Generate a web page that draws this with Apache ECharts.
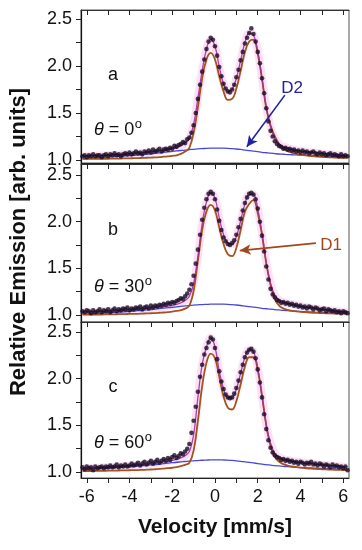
<!DOCTYPE html>
<html><head><meta charset="utf-8">
<script src="https://cdn.jsdelivr.net/npm/echarts@6/dist/echarts.min.js"></script>
<style>html,body{margin:0;padding:0;background:#fff}#c{width:362px;height:550px}</style>
</head><body><div id="c"></div>
<script>
// ---------- DATA ----------
const velocity = [
-6.2,-6.1,-6.0,-5.9,-5.8,-5.7,-5.6,-5.5,-5.4,-5.3,
-5.2,-5.1,-5.0,-4.9,-4.8,-4.7,-4.6,-4.5,-4.4,-4.3,
-4.2,-4.1,-4.0,-3.9,-3.8,-3.7,-3.6,-3.5,-3.4,-3.3,
-3.2,-3.1,-3.0,-2.9,-2.8,-2.7,-2.6,-2.5,-2.4,-2.3,
-2.2,-2.1,-2.0,-1.9,-1.8,-1.7,-1.6,-1.5,-1.4,-1.3,
-1.2,-1.1,-1.0,-0.9,-0.8,-0.7,-0.6,-0.5,-0.4,-0.3,
-0.2,-0.1,0.0,0.1,0.2,0.3,0.4,0.5,0.6,0.7,
0.8,0.9,1.0,1.1,1.2,1.3,1.4,1.5,1.6,1.7,
1.8,1.9,2.0,2.1,2.2,2.3,2.4,2.5,2.6,2.7,
2.8,2.9,3.0,3.1,3.2,3.3,3.4,3.5,3.6,3.7,
3.8,3.9,4.0,4.1,4.2,4.3,4.4,4.5,4.6,4.7,
4.8,4.9,5.0,5.1,5.2,5.3,5.4,5.5,5.6,5.7,
5.8,5.9,6.0,6.1,6.2];

const fitVelocity = [
-6.2,-6.0,-5.8,-5.6,-5.4,-5.2,-5.0,-4.8,-4.6,-4.4,
-4.2,-4.0,-3.8,-3.6,-3.4,-3.2,-3.0,-2.8,-2.6,-2.4,
-2.2,-2.0,-1.8,-1.6,-1.4,-1.2,-1.0,-0.8,-0.6,-0.4,
-0.2,0.0,0.2,0.4,0.6,0.8,1.0,1.2,1.4,1.6,
1.8,2.0,2.2,2.4,2.6,2.8,3.0,3.2,3.4,3.6,
3.8,4.0,4.2,4.4,4.6,4.8,5.0,5.2,5.4,5.6,
5.8,6.0,6.2];

// Panel a (theta = 0)
const dotsA = [
1.04,1.05,1.03,1.05,1.04,1.06,1.04,1.05,1.05,1.03,
1.05,1.06,1.04,1.06,1.05,1.07,1.05,1.06,1.04,1.06,
1.07,1.06,1.08,1.06,1.07,1.09,1.07,1.08,1.06,1.09,
1.08,1.10,1.08,1.11,1.09,1.10,1.12,1.09,1.11,1.12,
1.11,1.13,1.12,1.15,1.14,1.16,1.17,1.19,1.18,1.22,
1.24,1.29,1.37,1.50,1.65,1.80,1.94,2.07,2.18,2.26,
2.30,2.28,2.21,2.11,1.99,1.89,1.81,1.76,1.73,1.72,
1.75,1.80,1.88,1.96,2.06,2.15,2.24,2.30,2.35,2.40,
2.34,2.26,2.15,2.03,1.87,1.71,1.55,1.41,1.31,1.25,
1.20,1.17,1.15,1.14,1.12,1.13,1.11,1.12,1.10,1.11,
1.09,1.10,1.08,1.10,1.08,1.09,1.07,1.08,1.09,1.07,
1.06,1.08,1.06,1.07,1.05,1.06,1.07,1.05,1.06,1.05,
1.04,1.06,1.04,1.05,1.04];
const totalA = [
1.040,1.042,1.044,1.046,1.048,1.050,1.052,1.054,1.057,1.060,
1.063,1.066,1.069,1.072,1.076,1.080,1.085,1.090,1.096,1.103,
1.110,1.120,1.132,1.150,1.18,1.23,1.38,1.66,1.95,2.18,
2.28,2.21,1.99,1.81,1.73,1.75,1.87,2.06,2.25,2.35,
2.33,2.16,1.87,1.56,1.35,1.23,1.17,1.14,1.125,1.115,
1.105,1.098,1.091,1.085,1.080,1.075,1.070,1.066,1.062,1.058,
1.054,1.050,1.047];
const d1A = [
1.010,1.011,1.011,1.012,1.012,1.013,1.013,1.014,1.015,1.016,
1.017,1.018,1.019,1.020,1.022,1.024,1.026,1.028,1.031,1.035,
1.039,1.044,1.050,1.065,1.09,1.13,1.29,1.56,1.87,2.07,
2.14,2.07,1.89,1.73,1.64,1.65,1.76,1.95,2.15,2.26,
2.28,2.13,1.86,1.55,1.37,1.25,1.17,1.12,1.095,1.078,
1.066,1.057,1.050,1.044,1.040,1.036,1.033,1.030,1.028,1.026,
1.024,1.023,1.022];
const d2A = [
1.018,1.020,1.022,1.024,1.026,1.028,1.031,1.034,1.037,1.040,
1.043,1.046,1.050,1.054,1.058,1.062,1.066,1.071,1.076,1.081,
1.086,1.091,1.096,1.101,1.106,1.110,1.114,1.118,1.121,1.124,
1.126,1.127,1.127,1.126,1.124,1.121,1.117,1.112,1.106,1.100,
1.094,1.088,1.082,1.077,1.072,1.068,1.064,1.061,1.058,1.056,
1.054,1.052,1.050,1.048,1.046,1.044,1.042,1.040,1.038,1.036,
1.035,1.034,1.033];

// Panel b (theta = 30)
const dotsB = [
1.04,1.03,1.05,1.04,1.02,1.05,1.03,1.04,1.06,1.03,
1.05,1.04,1.06,1.03,1.05,1.07,1.04,1.06,1.05,1.07,
1.06,1.08,1.05,1.07,1.06,1.08,1.07,1.09,1.06,1.08,
1.09,1.07,1.10,1.08,1.10,1.09,1.11,1.10,1.12,1.11,
1.13,1.12,1.14,1.13,1.15,1.16,1.18,1.17,1.20,1.23,
1.27,1.33,1.42,1.55,1.70,1.86,2.02,2.15,2.24,2.30,
2.32,2.30,2.24,2.13,2.01,1.91,1.83,1.79,1.76,1.75,
1.77,1.80,1.86,1.94,2.03,2.12,2.20,2.26,2.30,2.31,
2.29,2.24,2.14,2.00,1.85,1.68,1.52,1.38,1.28,1.22,
1.19,1.16,1.15,1.13,1.14,1.12,1.13,1.11,1.12,1.10,
1.11,1.09,1.10,1.08,1.09,1.07,1.09,1.08,1.06,1.08,
1.07,1.05,1.06,1.07,1.04,1.06,1.05,1.04,1.05,1.03,
1.04,1.02,1.04,1.03,1.02];
const totalB = [
1.030,1.032,1.034,1.036,1.038,1.040,1.042,1.044,1.046,1.049,
1.052,1.055,1.058,1.061,1.065,1.069,1.073,1.078,1.083,1.089,
1.096,1.104,1.115,1.130,1.155,1.20,1.34,1.63,1.98,2.21,
2.31,2.25,2.04,1.86,1.77,1.76,1.84,2.01,2.19,2.29,
2.29,2.14,1.87,1.56,1.34,1.21,1.16,1.14,1.125,1.115,
1.105,1.096,1.088,1.080,1.073,1.066,1.060,1.054,1.049,1.044,
1.040,1.036,1.033];
const d1B = [
1.003,1.004,1.004,1.005,1.005,1.006,1.006,1.007,1.008,1.009,
1.010,1.011,1.012,1.013,1.015,1.017,1.019,1.021,1.024,1.027,
1.031,1.036,1.043,1.053,1.068,1.10,1.26,1.58,1.91,2.11,
2.18,2.12,1.94,1.76,1.65,1.63,1.72,1.91,2.11,2.19,
2.23,2.09,1.86,1.55,1.32,1.17,1.10,1.07,1.055,1.045,
1.039,1.034,1.030,1.027,1.024,1.022,1.020,1.018,1.017,1.016,
1.015,1.014,1.013];
const d2B = [
1.010,1.012,1.014,1.016,1.018,1.020,1.023,1.026,1.029,1.032,
1.035,1.038,1.042,1.046,1.050,1.054,1.058,1.063,1.068,1.073,
1.078,1.083,1.088,1.093,1.098,1.102,1.106,1.109,1.112,1.114,
1.116,1.117,1.117,1.116,1.114,1.111,1.107,1.102,1.096,1.090,
1.084,1.078,1.072,1.067,1.062,1.058,1.054,1.050,1.047,1.044,
1.041,1.038,1.035,1.032,1.030,1.028,1.026,1.024,1.022,1.020,
1.018,1.016,1.015];

// Panel c (theta = 60)
const dotsC = [
1.05,1.03,1.06,1.04,1.05,1.02,1.06,1.04,1.05,1.06,
1.04,1.06,1.05,1.07,1.05,1.06,1.08,1.05,1.07,1.06,
1.08,1.06,1.07,1.09,1.07,1.08,1.10,1.07,1.09,1.11,
1.08,1.10,1.12,1.09,1.11,1.13,1.10,1.12,1.14,1.12,
1.15,1.13,1.16,1.18,1.15,1.17,1.20,1.19,1.22,1.25,
1.30,1.42,1.55,1.70,1.86,2.02,2.15,2.26,2.33,2.39,
2.44,2.42,2.33,2.21,2.08,1.97,1.89,1.83,1.80,1.79,
1.80,1.84,1.90,1.98,2.07,2.15,2.23,2.28,2.31,2.32,
2.29,2.22,2.10,1.96,1.80,1.62,1.46,1.34,1.26,1.21,
1.18,1.16,1.15,1.13,1.14,1.12,1.13,1.11,1.12,1.10,
1.11,1.09,1.11,1.10,1.08,1.10,1.09,1.11,1.08,1.09,
1.07,1.09,1.08,1.06,1.08,1.07,1.05,1.08,1.06,1.07,
1.05,1.06,1.04,1.06,1.02];
const totalC = [
1.040,1.042,1.044,1.046,1.048,1.050,1.052,1.055,1.058,1.061,
1.064,1.067,1.071,1.075,1.079,1.084,1.089,1.095,1.101,1.108,
1.115,1.124,1.136,1.152,1.175,1.22,1.40,1.80,2.15,2.34,
2.44,2.34,2.08,1.89,1.80,1.80,1.89,2.06,2.23,2.31,
2.29,2.12,1.81,1.50,1.31,1.20,1.16,1.14,1.13,1.12,
1.110,1.103,1.097,1.092,1.087,1.082,1.078,1.074,1.070,1.066,
1.062,1.058,1.055];
const d1C = [
1.010,1.011,1.011,1.012,1.012,1.013,1.014,1.015,1.016,1.017,
1.018,1.019,1.020,1.021,1.023,1.025,1.027,1.030,1.033,1.037,
1.041,1.046,1.053,1.063,1.077,1.10,1.23,1.55,1.92,2.17,
2.27,2.22,2.02,1.81,1.69,1.67,1.76,1.94,2.13,2.23,
2.23,2.09,1.82,1.50,1.28,1.16,1.11,1.085,1.070,1.060,
1.053,1.047,1.042,1.038,1.035,1.032,1.030,1.028,1.026,1.024,
1.023,1.022,1.021];
const d2C = [
1.028,1.030,1.032,1.034,1.036,1.038,1.041,1.044,1.047,1.050,
1.053,1.056,1.060,1.064,1.068,1.072,1.076,1.080,1.085,1.090,
1.095,1.100,1.105,1.109,1.113,1.117,1.120,1.123,1.126,1.128,
1.130,1.130,1.130,1.129,1.127,1.124,1.120,1.115,1.109,1.103,
1.097,1.091,1.085,1.079,1.074,1.069,1.065,1.061,1.057,1.054,
1.051,1.048,1.046,1.044,1.042,1.040,1.038,1.036,1.034,1.032,
1.030,1.028,1.026];

// Axis ticks / labels
const xTickValues = [-6,-5,-4,-3,-2,-1,0,1,2,3,4,5,6];
const xLabelValues = [-6,-4,-2,0,2,4,6];
const yTickValues = [1,1.25,1.5,1.75,2,2.25,2.5];
const yLabelValues = [1,1.5,2,2.5];
const panelLetters = ['a','b','c'];
const angleValues = ['0','30','60'];
// annotation arrows (data coordinates: start -> head)
const d2Arrow = [[3.27,1.69],[1.49,1.14]];
const d1Arrow = [[4.72,1.77],[1.16,1.69]];

// ---------- CHART ----------
const FONT = "'Liberation Sans', Arial, Helvetica, sans-serif";
const zip = (xs, ys) => xs.map((x, i) => [x, ys[i]]);
const panels = [
  {dots: dotsA, total: totalA, d1: d1A, d2: d2A, top: 10, height: 153, ymin: 0.968, ymax: 2.596},
  {dots: dotsB, total: totalB, d1: d1B, d2: d2B, top: 164, height: 158, ymin: 0.925, ymax: 2.618},
  {dots: dotsC, total: totalC, d1: d1C, d2: d2C, top: 322, height: 156, ymin: 0.936, ymax: 2.608}
];
const XMIN = -6.27, XMAX = 6.27;
const grid = [], xAxis = [], yAxis = [], series = [];
panels.forEach((p, i) => {
  grid.push({left: 81, right: 13, top: p.top, height: p.height, show: true, borderColor: '#555', borderWidth: 1});
  xAxis.push({
    gridIndex: i, type: 'value', min: XMIN, max: XMAX, position: 'bottom',
    axisLine: {show: true, onZero: false, lineStyle: {color: '#222', width: 1}},
    axisTick: {show: true, inside: false, length: 5, customValues: xTickValues, lineStyle: {color: '#222', width: 1}},
    axisLabel: {show: i === 2, customValues: xLabelValues, fontSize: 18, color: '#111', fontFamily: FONT, margin: 10},
    splitLine: {show: false}
  });
  xAxis.push({
    gridIndex: i, type: 'value', min: XMIN, max: XMAX, position: 'top',
    axisLine: {show: true, onZero: false, lineStyle: {color: '#333', width: 1}},
    axisTick: {show: true, inside: true, length: 5, customValues: xTickValues, lineStyle: {color: '#222', width: 1}},
    axisLabel: {show: false},
    splitLine: {show: false}
  });
  yAxis.push({
    gridIndex: i, type: 'value', min: p.ymin, max: p.ymax,
    axisLine: {show: true, onZero: false, lineStyle: {color: '#111', width: 1.2}},
    axisTick: {show: true, inside: false, length: 5, customValues: yTickValues, lineStyle: {color: '#222', width: 1}},
    axisLabel: {customValues: yLabelValues, formatter: v => v.toFixed(1), fontSize: 18, color: '#111', fontFamily: FONT, margin: 9},
    splitLine: {show: false}
  });
  const xi = 2 * i, yi = i;
  series.push({type: 'line', xAxisIndex: xi, yAxisIndex: yi, data: zip(fitVelocity, p.total), showSymbol: false, smooth: 0.4,
    lineStyle: {width: 8, color: 'rgba(248,165,228,0.35)'}, z: 1, silent: true});
  const d2s = {type: 'line', xAxisIndex: xi, yAxisIndex: yi, data: zip(fitVelocity, p.d2), showSymbol: false, smooth: 0.4,
    lineStyle: {width: 1.3, color: '#4848d8'}, z: 2, silent: true};
  const d1s = {type: 'line', xAxisIndex: xi, yAxisIndex: yi, data: zip(fitVelocity, p.d1), showSymbol: false, smooth: 0.4,
    lineStyle: {width: 1.8, color: '#a5521c'}, z: 3, silent: true};
  if (i === 0) {
    d2s.markLine = {silent: true, symbol: ['none', 'arrow'], symbolSize: [8, 11], label: {show: false},
      lineStyle: {color: '#1e22a6', width: 1.6, type: 'solid'},
      data: [[{coord: d2Arrow[0]}, {coord: d2Arrow[1]}]]};
  }
  if (i === 1) {
    d1s.markLine = {silent: true, symbol: ['none', 'arrow'], symbolSize: [8, 11], label: {show: false},
      lineStyle: {color: '#a3461b', width: 1.6, type: 'solid'},
      data: [[{coord: d1Arrow[0]}, {coord: d1Arrow[1]}]]};
  }
  series.push(d2s, d1s);
  series.push({type: 'line', xAxisIndex: xi, yAxisIndex: yi, data: zip(fitVelocity, p.total), showSymbol: false, smooth: 0.4,
    lineStyle: {width: 1.3, color: '#a0309f', opacity: 0.9}, z: 4, silent: true});
  series.push({type: 'scatter', xAxisIndex: xi, yAxisIndex: yi, data: zip(velocity, p.dots), symbolSize: 4.6,
    itemStyle: {color: '#1a0e26'}, z: 5, silent: true});
});

// text layout
function textWidth(font, s) {
  const ctx = document.createElement('canvas').getContext('2d');
  ctx.font = font; return ctx.measureText(s).width;
}
const letterY = [75, 230, 387];
const thetaY = [130, 287, 443];
const graphic = [];
panelLetters.forEach((L, i) => {
  graphic.push({type: 'text', x: 113, y: letterY[i], style: {text: L, font: '18px ' + FONT, fill: '#111', textAlign: 'center', textVerticalAlign: 'middle'}});
});
angleValues.forEach((a, i) => {
  const x0 = 94;
  const wTheta = textWidth('italic 18px ' + FONT, 'θ');
  const rest = ' = ' + a;
  const wRest = textWidth('18px ' + FONT, rest);
  graphic.push({type: 'text', x: x0, y: thetaY[i], style: {text: 'θ', font: 'italic 18px ' + FONT, fill: '#111', textAlign: 'left', textVerticalAlign: 'middle'}});
  graphic.push({type: 'text', x: x0 + wTheta, y: thetaY[i], style: {text: rest, font: '18px ' + FONT, fill: '#111', textAlign: 'left', textVerticalAlign: 'middle'}});
  graphic.push({type: 'text', x: x0 + wTheta + wRest + 0.5, y: thetaY[i] - 6, style: {text: 'o', font: '13px ' + FONT, fill: '#111', textAlign: 'left', textVerticalAlign: 'middle'}});
});
graphic.push({type: 'text', x: 292, y: 88, style: {text: 'D2', font: '17px ' + FONT, fill: '#1e22a6', textAlign: 'center', textVerticalAlign: 'middle'}});
graphic.push({type: 'text', x: 331, y: 245, style: {text: 'D1', font: '17px ' + FONT, fill: '#a3461b', textAlign: 'center', textVerticalAlign: 'middle'}});
graphic.push({type: 'text', x: 215, y: 527, style: {text: 'Velocity [mm/s]', font: 'bold 21px ' + FONT, fill: '#111', textAlign: 'center', textVerticalAlign: 'middle'}});
graphic.push({type: 'text', x: 19, y: 242, rotation: Math.PI / 2, style: {text: 'Relative Emission [arb. units]', font: 'bold 22px ' + FONT, fill: '#111', textAlign: 'center', textVerticalAlign: 'middle'}});

const chart = echarts.init(document.getElementById('c'), null, {renderer: 'canvas'});
chart.setOption({animation: false, backgroundColor: '#fff', grid, xAxis, yAxis, series, graphic});
</script></body></html>
